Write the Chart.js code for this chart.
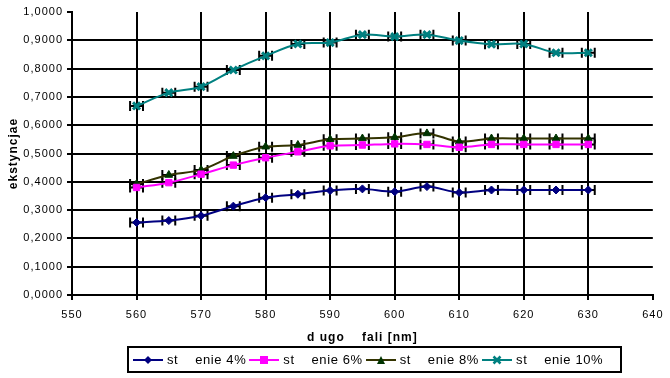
<!DOCTYPE html>
<html>
<head>
<meta charset="utf-8">
<script src="https://cdn.jsdelivr.net/npm/chart.js@4"></script>
<style>
  body { margin: 0; background: #fff; }
  #wrap { position: relative; width: 670px; height: 378px; }
  #legend {
    position: absolute; left: 127px; top: 346px; width: 487px; height: 23px;
    border: 2px solid #000; display: flex; align-items: center;
    font-family: "Liberation Sans", Arial, sans-serif; font-size: 13px;
    letter-spacing: 0.6px; white-space: pre; padding-left: 4px;
  }
  .item { display: flex; align-items: center; margin-right: 3px; }
  .item svg { margin-right: 4px; }
</style>
</head>
<body>
<div id="wrap">
  <canvas id="c" width="670" height="378"></canvas>
  <div id="legend"></div>
</div>
<script>
// wavelength [nm]
const wavelengths = [560, 565, 570, 575, 580, 585, 590, 595, 600, 605, 610, 615, 620, 625, 630];

const conc4 = [0.256, 0.263, 0.280, 0.314, 0.344, 0.356, 0.369, 0.375, 0.365, 0.383, 0.362, 0.371, 0.371, 0.371, 0.371];
const conc6 = [0.380, 0.397, 0.427, 0.459, 0.485, 0.506, 0.527, 0.530, 0.534, 0.532, 0.522, 0.532, 0.532, 0.532, 0.532];
const conc8 = [0.392, 0.424, 0.442, 0.491, 0.524, 0.530, 0.550, 0.553, 0.557, 0.571, 0.542, 0.553, 0.553, 0.553, 0.553];
const conc10 = [0.668, 0.715, 0.736, 0.795, 0.845, 0.887, 0.892, 0.920, 0.913, 0.920, 0.899, 0.886, 0.887, 0.856, 0.856];

const seriesNames = ["st    enie 4%", "st    enie 6%", "st    enie 8%", "st    enie 10%"];
const xError = 1; // +/- nm

const series = [
  { name: seriesNames[0], data: conc4, line: "#000080", fill: "#000080", style: "rectRot", r: 4 },
  { name: seriesNames[1], data: conc6, line: "#FF00FF", fill: "#FF00FF", style: "rect", r: 4.5 },
  { name: seriesNames[2], data: conc8, line: "#333300", fill: "#003300", style: "triangle", r: 4.5 },
  { name: seriesNames[3], data: conc10, line: "#008080", fill: "#008080", style: "crossRot", r: 5 }
];

// horizontal error bars, drawn under the markers
const errorBars = {
  id: "errorBars",
  beforeDatasetsDraw(chart) {
    const ctx = chart.ctx;
    const xs = chart.scales.x, ys = chart.scales.y;
    ctx.save();
    ctx.strokeStyle = "#000";
    ctx.lineWidth = 2;
    chart.data.datasets.forEach(ds => {
      ds.data.forEach(p => {
        const x1 = xs.getPixelForValue(p.x - xError);
        const x2 = xs.getPixelForValue(p.x + xError);
        const y = ys.getPixelForValue(p.y);
        ctx.beginPath();
        ctx.moveTo(x1, y); ctx.lineTo(x2, y);
        ctx.moveTo(x1, y - 5); ctx.lineTo(x1, y + 5);
        ctx.moveTo(x2, y - 5); ctx.lineTo(x2, y + 5);
        ctx.stroke();
      });
    });
    ctx.restore();
  }
};

const spacing = {
  id: "spacing",
  beforeDraw(chart) { chart.ctx.letterSpacing = "1px"; }
};

const tickFont = { family: "'Liberation Sans', Arial, sans-serif", size: 11 };
const titleFont = { family: "'Liberation Sans', Arial, sans-serif", size: 12, weight: "bold" };

new Chart(document.getElementById("c"), {
  type: "line",
  data: {
    datasets: series.map(s => ({
      label: s.name,
      data: s.data.map((v, i) => ({ x: wavelengths[i], y: v })),
      borderColor: s.line,
      borderWidth: 2,
      backgroundColor: s.fill,
      pointStyle: s.style,
      pointRadius: s.r,
      pointBorderColor: s.fill,
      pointBackgroundColor: s.fill,
      pointBorderWidth: s.style === "crossRot" ? 3 : 1,
      tension: 0.3,
      fill: false
    }))
  },
  options: {
    responsive: false,
    animation: false,
    layout: { padding: { top: 12, right: 14, left: 6, bottom: 33 } },
    plugins: { legend: { display: false }, tooltip: { enabled: false } },
    scales: {
      x: {
        type: "linear",
        min: 550, max: 640,
        afterFit: s => { s.height = 50; },
        border: { color: "#000", width: 2 },
        grid: {
          color: c => (c.tick && c.tick.value === 640) ? "rgba(0,0,0,0)" : "#000",
          tickColor: "#000",
          lineWidth: 2,
          tickLength: 5
        },
        ticks: { stepSize: 10, color: "#000", font: tickFont, padding: 8, maxRotation: 0 },
        title: { display: true, text: "d ugo    fali [nm]", color: "#000", font: titleFont, padding: { top: 4, bottom: 0 } }
      },
      y: {
        min: 0, max: 1,
        afterFit: s => { s.width = 66; },
        border: { color: "#000", width: 2 },
        grid: {
          color: c => (c.tick && c.tick.value === 1) ? "rgba(0,0,0,0)" : "#000",
          tickColor: "#000",
          lineWidth: 2,
          tickLength: 5
        },
        ticks: {
          stepSize: 0.1, color: "#000", font: tickFont, padding: 4,
          callback: v => v.toFixed(4).replace(".", ",")
        },
        title: { display: true, text: "ekstyncjae", color: "#000", font: titleFont, padding: { top: 0, bottom: 0 } }
      }
    }
  },
  plugins: [spacing, errorBars]
});

// legend below the chart
function markerSvg(s) {
  let m = "";
  if (s.style === "rectRot") m = '<polygon points="15,1 19,5 15,9 11,5" fill="' + s.fill + '"/>';
  else if (s.style === "rect") m = '<rect x="11" y="1" width="8" height="8" fill="' + s.fill + '"/>';
  else if (s.style === "triangle") m = '<polygon points="15,1 19,9 11,9" fill="' + s.fill + '"/>';
  else m = '<path d="M11.5,1.5 L18.5,8.5 M18.5,1.5 L11.5,8.5" stroke="' + s.fill + '" stroke-width="2.5"/>';
  return '<svg width="30" height="10"><line x1="0" y1="5" x2="30" y2="5" stroke="' + s.line + '" stroke-width="2"/>' + m + '</svg>';
}
document.getElementById("legend").innerHTML = series.map(s =>
  '<span class="item">' + markerSvg(s) + '<span>' + s.name + '</span></span>').join("");
</script>
</body>
</html>
